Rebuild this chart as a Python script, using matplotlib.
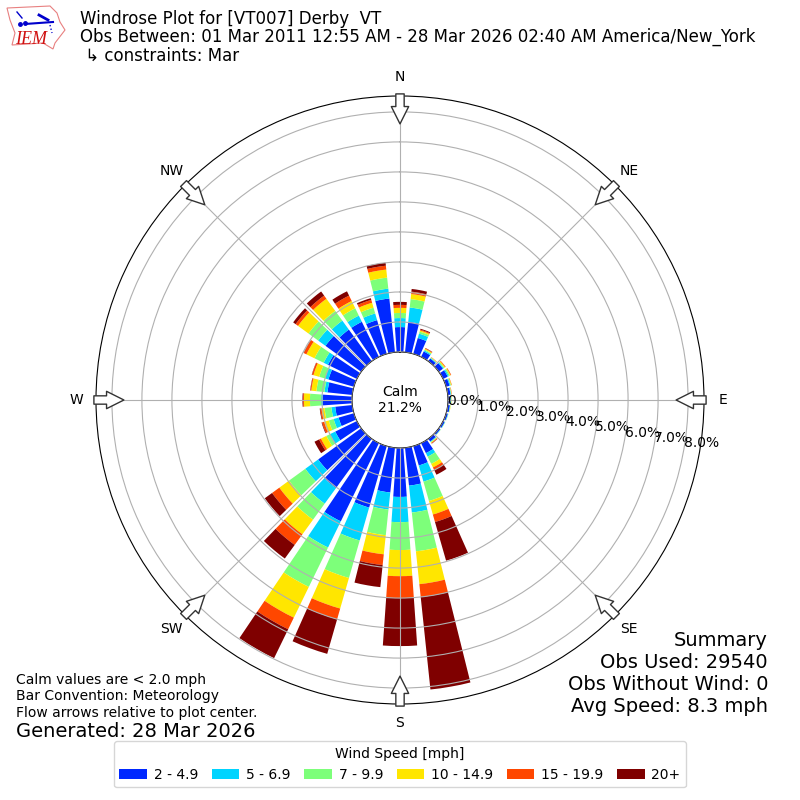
import numpy as np
import matplotlib
matplotlib.use('Agg')
import matplotlib.pyplot as plt
from matplotlib.patches import Polygon

directions = np.arange(0, 360, 10)
# percent of obs per direction, one list per speed bin
bin_2_5 = [.83, 1.02, .55, .20, .11, .17, .17, .12, .09, .08, .07, .06, .06, .06, .11, .37, .67, 1.27,
           1.63, 1.50, 2.13, 2.90, 2.03, 1.77, .80, .53, .57, .97, .83, .88, 1.07, 1.47, 1.30, 1.30, 1.17, 1.80]
bin_5_7 = [.30, .48, .15, .04, .02, .03, .04, .03, .02, .02, .01, .01, .01, .01, .02, .13, .56, .90,
           .84, .57, 1.14, .97, .64, .53, .20, .17, .13, .06, .10, .12, .16, .30, .37, .23, .23, .33]
bin_7_10 = [.17, .28, .07, .03, .02, .03, .04, .02, .01, .01, .01, .01, .01, .01, .02, .27, .67, 1.30,
            .93, .86, 1.30, 1.46, .66, .67, .13, .17, .23, .37, .27, .20, .34, .40, .40, .27, .20, .37]
bin_10_15 = [.17, .17, .04, .03, .01, .03, .03, .02, .01, .01, .01, 0, 0, 0, .02, .13, .47, 1.10,
             .87, .64, 1.06, 1.14, .60, .40, .20, .16, .10, .20, .17, .20, .30, .43, .50, .27, .17, .27]
bin_15_20 = [.10, .08, .03, .02, .01, .02, .02, .01, .01, 0, 0, 0, 0, 0, .02, .10, .26, .43,
             .73, .36, .37, .43, .44, .30, .07, .07, .04, .03, .03, .05, .10, .10, .13, .20, .10, .13]
bin_20 = [.10, .09, .03, .01, 0, 0, 0, 0, 0, 0, 0, 0, 0, 0, .01, .17, 1.34, 3.10,
          1.60, .74, 1.20, 1.07, .56, .30, .17, .02, .02, .02, .01, .01, .01, .10, .17, .16, .06, .10]
speed_bins = [bin_2_5, bin_5_7, bin_7_10, bin_10_15, bin_15_20, bin_20]
speed_labels = ['2 - 4.9', '5 - 6.9', '7 - 9.9', '10 - 14.9', '15 - 19.9', '20+']
colors = ['#0028ff', '#00d4ff', '#7dff7a', '#ffe600', '#ff4700', '#7f0000']
ring_ticks = [0, 1, 2, 3, 4, 5, 6, 7, 8]
compass = ['N', 'NE', 'E', 'SE', 'S', 'SW', 'W', 'NW']
compass_deg = [0, 45, 90, 135, 180, 225, 270, 315]

fig = plt.figure(figsize=(8, 8), dpi=100)
ax = fig.add_axes([0.12, 0.12, 0.76, 0.76], projection='polar')
ax.set_theta_zero_location('N')
ax.set_theta_direction(-1)

base = np.zeros(len(directions))
for vals, label, c in zip(speed_bins, speed_labels, colors):
    ax.bar(np.radians(directions), vals, width=np.radians(8), bottom=base, color=c, label=label)
    base = base + np.array(vals)

ax.set_rorigin(-1.6)
ax.set_rlim(0, 8.53)
ax.set_axisbelow(False)
ax.set_rticks(ring_ticks)
ax.set_yticklabels(['%.1f%%' % r for r in ring_ticks])
ax.set_rlabel_position(100)
ax.set_xticks(np.radians(compass_deg))
ax.set_xticklabels(compass)
ax.tick_params(axis='x', pad=3.5)
ax.text(0.5, 0.5, 'Calm\n21.2%', transform=ax.transAxes, ha='center', va='center', fontsize=10)

# arrows pointing to plot center
for deg in compass_deg:
    ax.annotate('', xy=(np.radians(deg), 7.6), xytext=(np.radians(deg), 8.6),
                arrowprops=dict(facecolor='white', edgecolor='#333333', width=6, headwidth=12.5,
                                headlength=12.5, shrink=0, lw=1), annotation_clip=False)

fig.text(0.1, 0.976, 'Windrose Plot for [VT007] Derby  VT', fontsize=12, va='center')
fig.text(0.1, 0.9535, 'Obs Between: 01 Mar 2011 12:55 AM - 28 Mar 2026 02:40 AM America/New_York', fontsize=12, va='center')
fig.text(0.1, 0.93, ' ↳ constraints: Mar', fontsize=12, va='center')

fig.text(0.02, 0.1005, 'Calm values are < 2.0 mph\nBar Convention: Meteorology\nFlow arrows relative to plot center.',
         fontsize=10, va='bottom')
fig.text(0.02, 0.0975, 'Generated: 28 Mar 2026', fontsize=14, va='top')
fig.text(0.96, 0.105, 'Summary\nObs Used: 29540\nObs Without Wind: 0\nAvg Speed: 8.3 mph', fontsize=14,
         ha='right', va='bottom')

fig.legend(*ax.get_legend_handles_labels(), loc='lower center', ncol=6, title='Wind Speed [mph]',
           bbox_to_anchor=(0.5, 0.007), fontsize=10, columnspacing=0.95, handletextpad=0.5)

# IEM logo
logo = fig.add_axes([0, 0.925, 0.0875, 0.075])
logo.set_xlim(0, 70)
logo.set_ylim(60, 0)
logo.axis('off')
logo.add_patch(Polygon([(7, 8), (50, 6), (57, 13), (60, 22), (65, 30), (55, 43), (53, 49), (43, 43),
                        (12, 45), (15, 33), (10, 20)], closed=True, fill=False, edgecolor='#e88080', lw=0.8))
logo.plot([25, 53], [24, 22], color='#0000cc', lw=1.5)
logo.plot([17, 22], [12, 18], color='#0000cc', lw=1)
logo.plot([39, 48], [15, 20], color='#0000cc', lw=2)
logo.plot([50, 52], [25, 33], color='#0000cc', lw=1, ls=':')
logo.plot([20, 25], [24, 23], marker='o', color='#0000cc', ms=2.5, ls='')
logo.text(15, 44, 'IEM', color='#d01010', family='Liberation Serif', style='italic', fontsize=13, va='baseline')

plt.savefig('out.png', dpi=100)
